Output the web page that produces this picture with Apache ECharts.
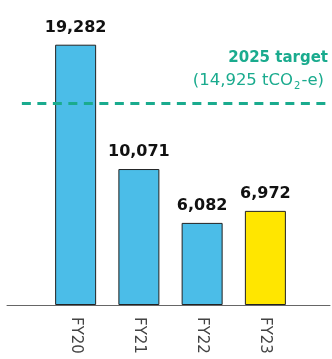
<!DOCTYPE html>
<html>
<head>
<meta charset="utf-8">
<script src="https://cdn.jsdelivr.net/npm/echarts@6/dist/echarts.min.js"></script>
<style>
  html, body { margin: 0; padding: 0; background: #fff; }
  #chart { width: 332px; height: 359px; }
</style>
</head>
<body>
<div id="chart"></div>
<script>
// Emissions by financial year (tCO2-e)
const categories = ['FY20', 'FY21', 'FY22', 'FY23'];
const emissions = [19282, 10071, 6082, 6972];
const barColors = ['#4bbde8', '#4bbde8', '#4bbde8', '#ffe600'];
const target = 14925;
const yMax = 20000;

const teal = '#1aab8e';
const font = 'DejaVu Sans';
const chart = echarts.init(document.getElementById('chart'));

chart.setOption({
  animation: false,
  graphic: [
    {
      type: 'text',
      right: 4,
      top: 51,
      style: {
        text: '2025 target',
        font: 'bold 15px "DejaVu Sans"',
        fill: teal,
        align: 'right'
      }
    },
    {
      type: 'text',
      right: 8,
      top: 71,
      style: {
        text: '{r|(14,925 tCO}{s|2}{r|-e)}',
        align: 'right',
        rich: {
          r: { fontFamily: font, fontSize: 16.5, fill: teal, lineHeight: 20 },
          s: { fontFamily: font, fontSize: 10, fill: teal, lineHeight: 10, padding: [10, 1, 0, 1] }
        }
      }
    }
  ],
  grid: [
    { left: 44, width: 253, top: 35, bottom: 54 },
    { left: 7, right: 2, top: 35, bottom: 54 }
  ],
  xAxis: [
    {
      type: 'category',
      gridIndex: 0,
      data: categories,
      axisLine: { show: false },
      axisTick: { show: false },
      axisLabel: {
        rotate: -90,
        margin: 12,
        fontFamily: font,
        fontSize: 15,
        color: '#444'
      }
    },
    {
      type: 'value',
      gridIndex: 1,
      min: 0,
      max: 1,
      axisLine: { show: true, lineStyle: { color: '#666', width: 1 } },
      axisTick: { show: false },
      axisLabel: { show: false },
      splitLine: { show: false }
    }
  ],
  yAxis: [
    { type: 'value', gridIndex: 0, min: 0, max: yMax, show: false, splitLine: { show: false } },
    { type: 'value', gridIndex: 1, min: 0, max: yMax, show: false, splitLine: { show: false } }
  ],
  series: [
    {
      type: 'line',
      xAxisIndex: 1,
      yAxisIndex: 1,
      data: [[0.046, target], [1, target]],
      symbol: 'none',
      lineStyle: { color: teal, width: 3, type: [9, 6.5] },
      z: 5
    },
    {
      type: 'bar',
      xAxisIndex: 0,
      yAxisIndex: 0,
      barWidth: 41,
      data: emissions.map((v, i) => ({
        value: v,
        itemStyle: { color: barColors[i], borderColor: '#222', borderWidth: 1 }
      })),
      label: {
        show: true,
        position: 'top',
        distance: 9,
        fontFamily: font,
        fontWeight: 'bold',
        fontSize: 16,
        color: '#111',
        formatter: p => p.value.toLocaleString('en-US')
      },
      z: 2
    }
  ]
});
</script>
</body>
</html>
